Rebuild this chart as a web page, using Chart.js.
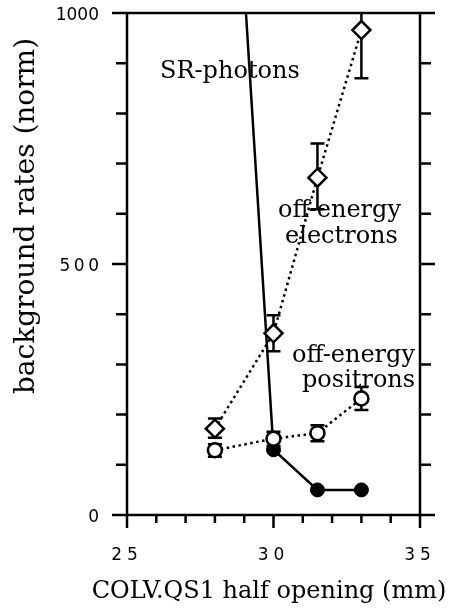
<!DOCTYPE html>
<html>
<head>
<meta charset="utf-8">
<script src="https://cdn.jsdelivr.net/npm/chart.js@4.4.0/dist/chart.umd.min.js"></script>
<style>html,body{margin:0;padding:0;background:#fff}</style>
</head>
<body>
<canvas id="chart" width="455" height="609"></canvas>
<script>
const xTicks = [25, 30, 35];
const yTicks = [0, 500, 1000];

// SR-photons (solid, filled circles); first point is where the line leaves the top
const srX = [29.06, 30, 31.5, 33];
const srY = [1000, 130, 50, 50];

// off-energy electrons (dotted, open diamonds)
const elecX = [28, 30, 31.5, 33];
const elecY = [172, 362, 672, 966];
const elecErrUp = [20, 36, 68, 110];
const elecErrDown = [18, 36, 63, 96];

// off-energy positrons (dotted, open circles)
const posX = [28, 30, 31.5, 33];
const posY = [129, 152, 163, 232];
const posErrUp = [12, 14, 16, 23];
const posErrDown = [13, 14, 16, 23];

const serif = "'DejaVu Serif', serif";
const sans = "'DejaVu Sans', sans-serif";

function pts(xs, ys) { return xs.map((v, i) => ({x: v, y: ys[i]})); }

const framePlugin = {
    id: "frame",
    beforeDatasetsDraw(chart) {
        const ctx = chart.ctx, x = chart.scales.x, y = chart.scales.y, a = chart.chartArea;
        ctx.save();
        ctx.beginPath();
        ctx.rect(a.left, a.top - 1, a.right - a.left, a.bottom - a.top + 1);
        ctx.clip();
        ctx.strokeStyle = "#000";
        ctx.lineWidth = 2.5;
        const bars = (xs, ys, up, down) => {
            xs.forEach((v, i) => {
                const px = x.getPixelForValue(v);
                const top = y.getPixelForValue(ys[i] + up[i]);
                const bot = y.getPixelForValue(ys[i] - down[i]);
                ctx.beginPath();
                ctx.moveTo(px, top); ctx.lineTo(px, bot);
                ctx.moveTo(px - 7, top); ctx.lineTo(px + 7, top);
                ctx.moveTo(px - 7, bot); ctx.lineTo(px + 7, bot);
                ctx.stroke();
            });
        };
        bars(elecX, elecY, elecErrUp, elecErrDown);
        bars(posX, posY, posErrUp, posErrDown);
        ctx.restore();
    },
    afterDraw(chart) {
        const ctx = chart.ctx, x = chart.scales.x, y = chart.scales.y, a = chart.chartArea;
        ctx.save();
        ctx.strokeStyle = "#000";
        ctx.lineWidth = 2.5;
        ctx.beginPath();
        // frame with overhanging corners
        ctx.moveTo(a.left - 15, a.top); ctx.lineTo(a.right + 15, a.top);
        ctx.moveTo(a.left - 15, a.bottom); ctx.lineTo(a.right + 15, a.bottom);
        ctx.moveTo(a.left, a.top); ctx.lineTo(a.left, a.bottom + 13);
        ctx.moveTo(a.right, a.top); ctx.lineTo(a.right, a.bottom + 13);
        // y ticks, every 100
        for (let v = 100; v < 1000; v += 100) {
            const py = y.getPixelForValue(v);
            const len = v % 500 === 0 ? 15 : 11;
            ctx.moveTo(a.left - len, py); ctx.lineTo(a.left, py);
            ctx.moveTo(a.right, py); ctx.lineTo(a.right + len, py);
        }
        // x ticks, every 1
        for (let v = 26; v < 35; v++) {
            const px = x.getPixelForValue(v);
            const len = v % 5 === 0 ? 13 : 8;
            ctx.moveTo(px, a.bottom); ctx.lineTo(px, a.bottom + len);
        }
        ctx.stroke();

        // tick labels, widely spaced like the original
        ctx.fillStyle = "#000";
        ctx.font = "17px " + sans;
        ctx.textAlign = "center";
        ctx.textBaseline = "alphabetic";
        ctx.letterSpacing = "5px";
        xTicks.forEach(v => ctx.fillText(String(v), x.getPixelForValue(v), a.bottom + 45));
        ctx.textAlign = "right";
        ctx.textBaseline = "middle";
        yTicks.forEach(v => {
            const sp = v >= 1000 ? 0 : 3.5;
            ctx.letterSpacing = sp + "px";
            ctx.fillText(String(v), 99 + sp, y.getPixelForValue(v) + 3);
        });
        ctx.letterSpacing = "0px";

        ctx.font = "24px " + serif;
        ctx.textAlign = "center";
        ctx.textBaseline = "alphabetic";
        ctx.fillText("COLV.QS1 half opening (mm)", 269, 598);
        ctx.save();
        ctx.font = "28px " + serif;
        ctx.translate(34, 216);
        ctx.rotate(-Math.PI / 2);
        ctx.fillText("background rates (norm)", 0, 0);
        ctx.restore();

        ctx.textAlign = "left";
        ctx.fillText("SR-photons", 160, 78);
        ctx.fillText("off-energy", 278, 217);
        ctx.fillText("electrons", 285, 243);
        ctx.fillText("off-energy", 292, 362);
        ctx.fillText("positrons", 302, 387);
        ctx.restore();
    }
};

new Chart(document.getElementById("chart"), {
    type: "scatter",
    data: {
        datasets: [
            {
                data: pts(posX, posY), showLine: true,
                borderColor: "#000", borderWidth: 2.5, borderDash: [2.5, 3.5],
                pointStyle: "circle", pointRadius: 7,
                pointBackgroundColor: "#fff", pointBorderColor: "#000", pointBorderWidth: 2.5
            },
            {
                data: pts(elecX, elecY), showLine: true,
                borderColor: "#000", borderWidth: 2.5, borderDash: [2.5, 3.5],
                pointStyle: "rectRot", pointRadius: 9,
                pointBackgroundColor: "#fff", pointBorderColor: "#000", pointBorderWidth: 2.5
            },
            {
                data: pts(srX, srY), showLine: true,
                borderColor: "#000", borderWidth: 2.5,
                pointStyle: "circle", pointRadius: srX.map((v, i) => i === 0 ? 0 : 7),
                pointBackgroundColor: "#000", pointBorderColor: "#000", pointBorderWidth: 1
            }
        ]
    },
    options: {
        responsive: false,
        animation: false,
        layout: {padding: {left: 0, top: 13, right: 35, bottom: 0}},
        plugins: {legend: {display: false}, tooltip: {enabled: false}},
        scales: {
            x: {
                type: "linear", min: 25, max: 35,
                afterBuildTicks: s => { s.ticks = xTicks.map(v => ({value: v})); },
                afterFit: s => { s.height = 94; s.paddingLeft = 0; s.paddingRight = 0; },
                grid: {display: false, drawTicks: false},
                border: {display: false},
                ticks: {display: false}
            },
            y: {
                type: "linear", min: 0, max: 1000,
                afterBuildTicks: s => { s.ticks = yTicks.map(v => ({value: v})); },
                afterFit: s => { s.width = 127; s.paddingTop = 0; s.paddingBottom = 0; },
                grid: {display: false, drawTicks: false},
                border: {display: false},
                ticks: {display: false}
            }
        }
    },
    plugins: [framePlugin]
});
</script>
</body>
</html>
